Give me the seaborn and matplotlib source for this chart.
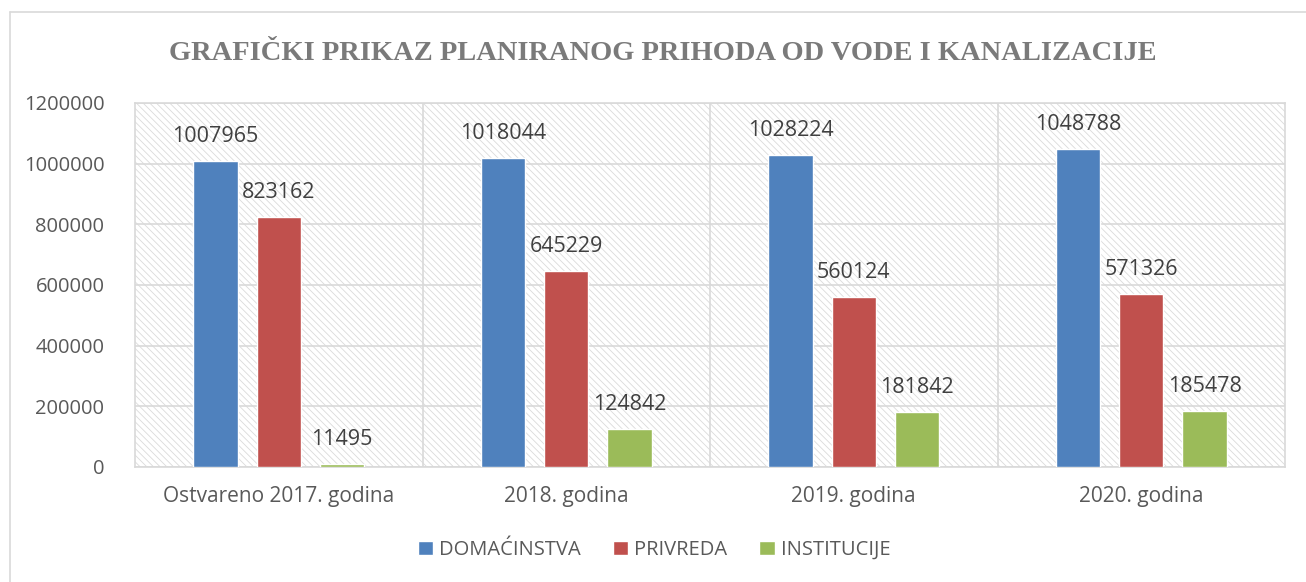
import matplotlib
matplotlib.use("Agg")
import matplotlib.pyplot as plt
from matplotlib.patches import Rectangle
from matplotlib.lines import Line2D
import pandas as pd
import seaborn as sns

# =====================================================
# Data
# =====================================================

years = ["Ostvareno 2017. godina", "2018. godina", "2019. godina", "2020. godina"]
series = ["DOMAĆINSTVA", "PRIVREDA", "INSTITUCIJE"]

domacinstva = [1007965, 1018044, 1028224, 1048788]
privreda = [823162, 645229, 560124, 571326]
institucije = [11495, 124842, 181842, 185478]

colors = ["#4F81BD", "#C0504D", "#9BBB59"]
y_ticks = [0, 200000, 400000, 600000, 800000, 1000000, 1200000]

df = pd.DataFrame({
    "godina": years * 3,
    "serija": [s for s in series for _ in years],
    "iznos": domacinstva + privreda + institucije,
})

# =====================================================
# Plot
# =====================================================

sns.set_style("white")
plt.rcParams["font.family"] = ["Open Sans", "DejaVu Sans"]
plt.rcParams["hatch.linewidth"] = 0.6

fig = plt.figure(figsize=(13.06, 5.82), dpi=100)
ax = fig.add_axes([135 / 1306, 1 - 467 / 582, 1150 / 1306, 364 / 582])

# outer chart border (cropped on right / bottom)
fig.add_artist(Line2D([10 / 1306, 1], [1 - 12 / 582] * 2, color="#d9d9d9", lw=1.2))
fig.add_artist(Line2D([10 / 1306] * 2, [0, 1 - 12 / 582], color="#d9d9d9", lw=1.2))

# hatched plot background
ax.add_patch(Rectangle((0, 0), 1, 1, transform=ax.transAxes, facecolor="white",
                       edgecolor="#dadada", hatch="\\\\\\\\\\", linewidth=0, zorder=0))

sns.barplot(
    data=df, x="godina", y="iznos", hue="serija",
    order=years, hue_order=series, palette=colors,
    width=0.66, gap=0.3, saturation=1, errorbar=None,
    ax=ax, zorder=3,
)

for cont in ax.containers:
    ax.bar_label(cont, fmt="%d", padding=10, fontsize=15.5, color="#404040")

ax.set_ylim(0, 1200000)
ax.set_xlim(-0.5, 3.5)
ax.set_yticks(y_ticks)
ax.set_yticklabels([str(v) for v in y_ticks])
ax.yaxis.grid(True, color="#d9d9d9", lw=1.2, zorder=1)
for xv in [0.5, 1.5, 2.5]:
    ax.axvline(xv, color="#d9d9d9", lw=1.2, zorder=1)
ax.set_axisbelow(True)
for sp in ax.spines.values():
    sp.set_color("#d9d9d9")
    sp.set_linewidth(1.2)

ax.tick_params(axis="x", length=0, labelsize=15, labelcolor="#595959", pad=14)
ax.tick_params(axis="y", length=0, labelsize=14.5, labelcolor="#595959", pad=22)
ax.set_xlabel("")
ax.set_ylabel("")

handles, labels = ax.get_legend_handles_labels()
ax.legend(
    handles, labels, loc="center", bbox_to_anchor=(654 / 1306, 1 - 550 / 582),
    bbox_transform=fig.transFigure, ncol=3, frameon=False, fontsize=14.5,
    labelcolor="#595959", handlelength=0.75, handleheight=0.75,
    handletextpad=0.3, columnspacing=1.6,
)

fig.text(663 / 1306, 1 - 53 / 582, "GRAFIČKI PRIKAZ PLANIRANOG PRIHODA OD VODE I KANALIZACIJE",
         ha="center", va="center", fontsize=20.5, fontweight="bold",
         color="#7a7a7a", family=["Liberation Serif", "DejaVu Serif"])

fig.savefig("out.png", dpi=100, facecolor="white")
plt.close(fig)
